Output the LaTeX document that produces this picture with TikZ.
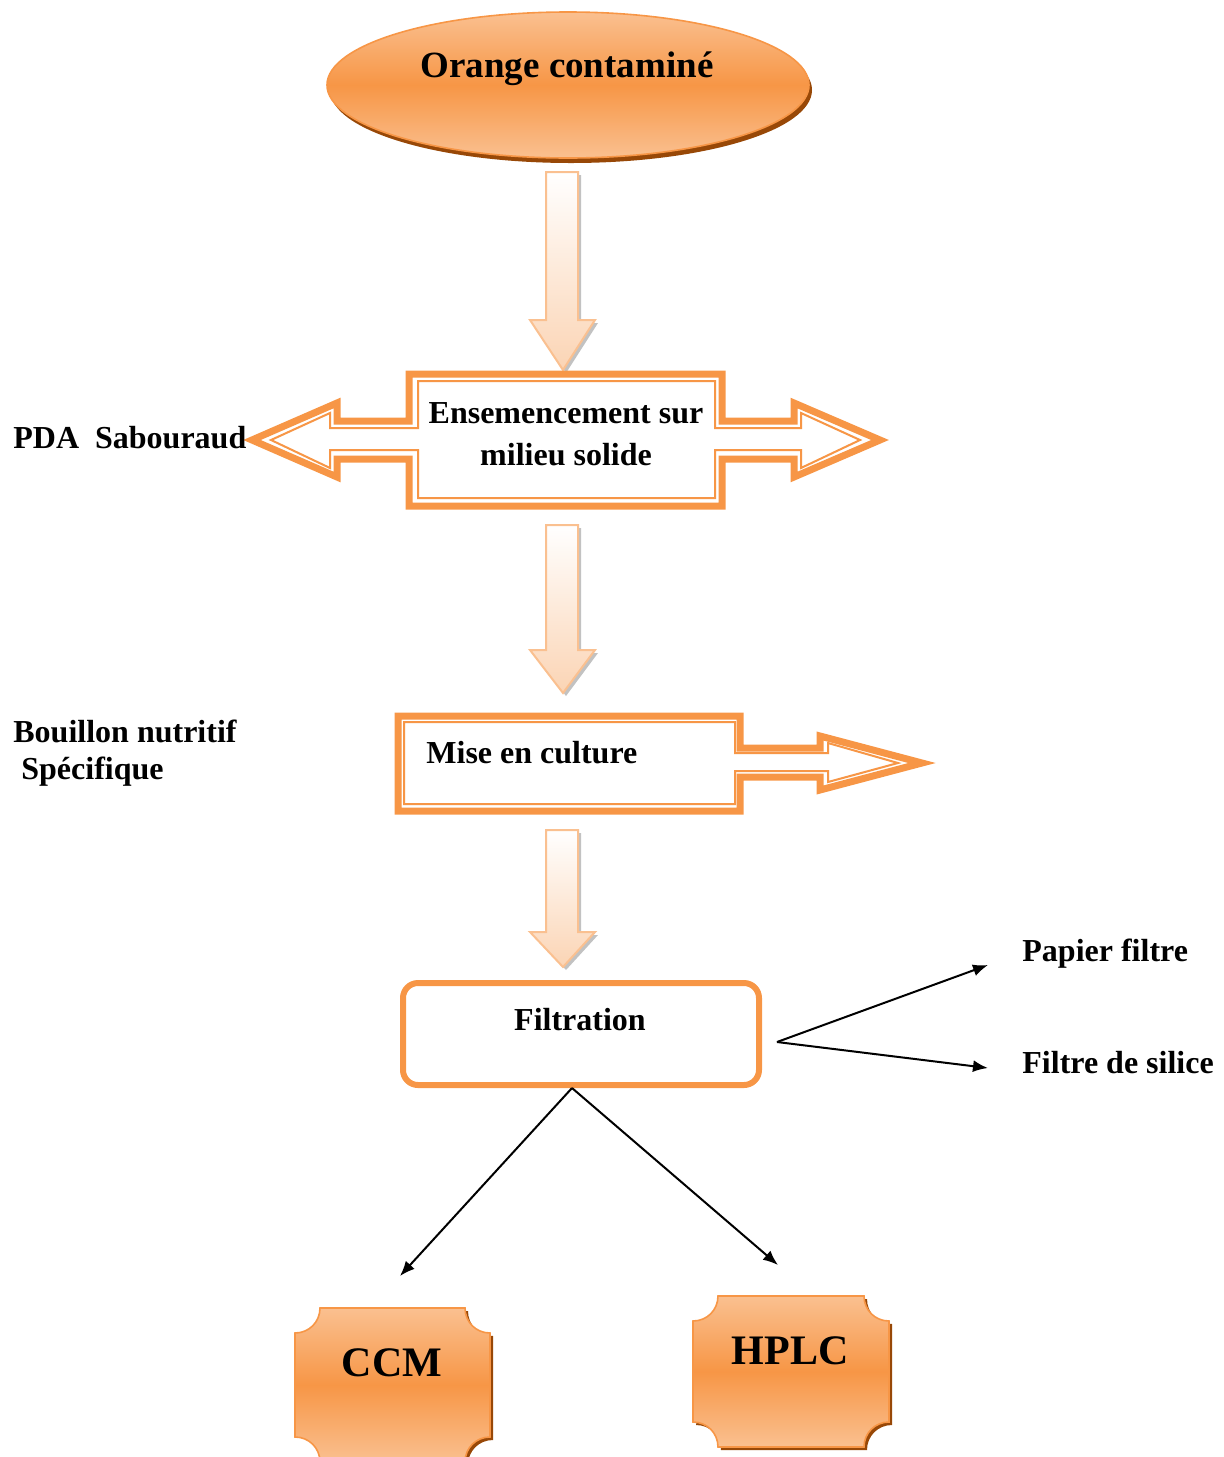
\documentclass[tikz,border=0pt]{standalone}
\usepackage{fontspec}
\setmainfont{Liberation Serif}
\usetikzlibrary{arrows.meta,shadows}
\definecolor{orM}{HTML}{F79646}
\definecolor{orL}{HTML}{FAC090}
\definecolor{orP}{HTML}{FBD4B4}
\definecolor{brn}{HTML}{984807}

\begin{document}
\begin{tikzpicture}[x=0.5pt,y=-0.5pt]
	\tikzstyle{every node}=[font=\bfseries\fontsize{16}{21}\selectfont, inner sep=0pt]
	\tikzstyle{big}=[font=\bfseries\fontsize{21}{24}\selectfont]
	\tikzstyle{blob}=[top color=orL, bottom color=orL, middle color=orM, draw=orM, line width=0.8pt]
	\tikzstyle{down}=[top color=white, bottom color=orP, draw=orL, line width=1pt,
		drop shadow={shadow xshift=1.5pt, shadow yshift=-1.5pt, fill=black!40, opacity=0.6}]
	\tikzstyle{band}=[draw=orM, line width=3.5pt, fill=white]
	\tikzstyle{thin}=[draw=orM, line width=1pt]
	\tikzstyle{ln}=[-{Latex[length=7.5pt,width=6pt]}, line width=1pt]

	\useasboundingbox (0,0) rectangle (1224,1457);

	% top ellipse
	\fill[brn] (571,90) ellipse [x radius=241, y radius=73];
	\shade[blob] (568,85) ellipse [x radius=241, y radius=73];
	\node[font=\bfseries\fontsize{18.5}{22}\selectfont] (org) at (567,69) {Orange contaminé};

	% down arrows
	\filldraw[down] (546,172) -- (578,172) -- (578,320) -- (595,320) -- (563,370) -- (530,320) -- (546,320) -- cycle;
	\filldraw[down] (546,525) -- (578,525) -- (578,650) -- (595,650) -- (563,693) -- (530,650) -- (546,650) -- cycle;
	\filldraw[down] (546,830) -- (578,830) -- (578,932) -- (595,932) -- (563,967) -- (530,932) -- (546,932) -- cycle;

	% ensemencement, double arrow
	\draw[band] (409,374) -- (722,374) -- (722,421) -- (794,421) -- (794,403) -- (880,440) -- (794,477) -- (794,459)
		-- (722,459) -- (722,506) -- (409,506) -- (409,459) -- (337,459) -- (337,477) -- (252,440) -- (337,403)
		-- (337,421) -- (409,421) -- cycle;
	\draw[thin] (418,381) -- (715,381) -- (715,428) -- (801,428) -- (801,413) -- (860,440) -- (801,468) -- (801,450)
		-- (715,450) -- (715,498) -- (418,498) -- (418,450) -- (330,450) -- (330,468) -- (271,440) -- (330,413)
		-- (330,428) -- (418,428) -- cycle;
	\node[align=center] (ens) at (566,434) {Ensemencement sur\\milieu solide};
	\node[anchor=west] (pda) at (13,438) {PDA\ \ Sabouraud};

	% mise en culture
	\draw[band] (398,716) -- (740,716) -- (740,748) -- (820,748) -- (820,736) -- (922,763) -- (820,790) -- (820,777)
		-- (740,777) -- (740,811) -- (398,811) -- cycle;
	\draw[thin] (404,722) -- (735,722) -- (735,753) -- (828,753) -- (828,743) -- (898,763) -- (828,782) -- (828,771)
		-- (735,771) -- (735,804) -- (404,804) -- cycle;
	\node[anchor=west] (mis) at (426,753) {Mise en culture};
	\node[anchor=west, align=left, font=\bfseries\fontsize{16}{18.5}\selectfont] (bou) at (13,753) {Bouillon nutritif\\\ Spécifique};

	% filtration
	\node[draw=orM, line width=3pt, rounded corners=7.5pt, minimum width=178pt, minimum height=51pt] (filbox) at (581,1034) {};
	\node (fil) at (580,1020) {Filtration};
	\node[anchor=west] (pap) at (1022,954) {Papier filtre};
	\node[anchor=west] (sil) at (1022,1063) {Filtre de silice};

	% CCM and HPLC
	\fill[brn] (323,1311) -- (468,1311) .. controls (468,1325) and (479,1336) .. (493,1336) -- (493,1440)
		.. controls (479,1440) and (468,1451) .. (468,1465) -- (323,1465) -- cycle;
	\shade[blob] (320,1308) -- (465,1308) .. controls (465,1322) and (476,1333) .. (490,1333) -- (490,1437)
		.. controls (476,1437) and (465,1448) .. (465,1462) -- (320,1462) .. controls (320,1448) and (309,1437) .. (295,1437)
		-- (295,1333) .. controls (309,1333) and (320,1322) .. (320,1308) -- cycle;
	\node[big] (ccm) at (392,1363) {CCM};

	\fill[brn] (721,1299) -- (867,1299) .. controls (867,1313) and (878,1324) .. (892,1324) -- (892,1425)
		.. controls (878,1425) and (867,1436) .. (867,1450) -- (721,1450) .. controls (721,1436) and (710,1425) .. (696,1425) -- cycle;
	\shade[blob] (718,1296) -- (864,1296) .. controls (864,1310) and (875,1321) .. (889,1321) -- (889,1422)
		.. controls (875,1422) and (864,1433) .. (864,1447) -- (718,1447) .. controls (718,1433) and (707,1422) .. (693,1422)
		-- (693,1321) .. controls (707,1321) and (718,1310) .. (718,1296) -- cycle;
	\node[big] (hplc) at (790,1351) {HPLC};

	% black arrows
	\coordinate (fs) at (572,1088);
	\coordinate (fe) at (777,1042);
	\coordinate (pe) at (988,965);
	\coordinate (se) at (988,1068);
	\coordinate (ce) at (400,1276);
	\coordinate (he) at (778,1265);
	\draw[ln] (fe) -- (pe);
	\draw[ln] (fe) -- (se);
	\draw[ln] (fs) -- (ce);
	\draw[ln] (fs) -- (he);
\end{tikzpicture}
\end{document}
